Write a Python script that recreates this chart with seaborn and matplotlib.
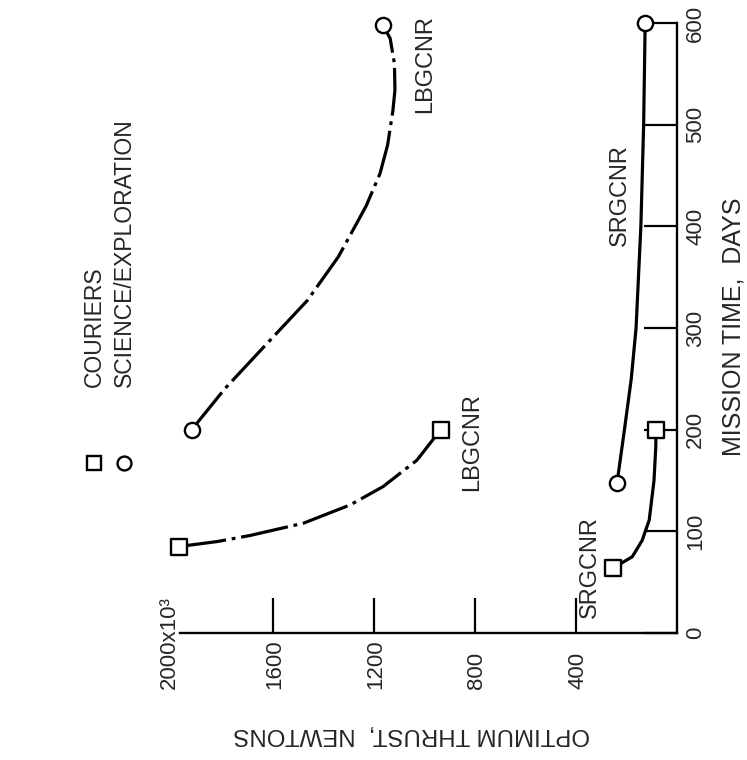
import matplotlib
matplotlib.use("Agg")
import matplotlib.pyplot as plt
import seaborn as sns
import pandas as pd

# Mission time (days) and optimum thrust (10^3 N) along each curve
courier_lbg_days = [85, 90, 96, 108, 126, 144, 170, 200]
courier_lbg_thrust = [1972, 1818, 1688, 1478, 1293, 1163, 1029, 935]

courier_srg_days = [64, 75, 91, 111, 150, 183, 200]
courier_srg_thrust = [252, 177, 138, 110, 91, 84, 83]

science_lbg_days = [200, 240, 280, 327, 370, 420, 452, 480, 514, 534, 560, 585, 598]
science_lbg_thrust = [1920, 1790, 1640, 1463, 1340, 1230, 1175, 1145, 1124, 1116, 1118, 1135, 1165]

science_srg_days = [148, 200, 250, 300, 400, 500, 600]
science_srg_thrust = [237, 208, 181, 162, 143, 132, 126]

thrust_ticks = [400, 800, 1200, 1600]
thrust_tick_labels = ["400", "800", "1200", "1600"]
day_ticks = [0, 100, 200, 300, 400, 500, 600]
day_tick_labels = ["0", "100", "200", "300", "400", "500", "600"]

legend_labels = ["COURIERS", "SCIENCE/EXPLORATION"]

sns.set_theme(style="white")
FONT = ["Liberation Sans", "DejaVu Sans"]
plt.rcParams["font.family"] = FONT

fig = plt.figure(figsize=(7.47, 7.6), dpi=100)
ax = fig.add_axes([0.2296, 0.1671, 0.6767, 0.8026])
ax.set_facecolor("white")

LW = 2.3
dashdot = (15, 1.8, 1.2, 1.8)

curves = [
    (courier_lbg_thrust, courier_lbg_days, "s", True),
    (courier_srg_thrust, courier_srg_days, "s", False),
    (science_lbg_thrust, science_lbg_days, "o", True),
    (science_srg_thrust, science_srg_days, "o", False),
]

for thrust, days, mk, dashed in curves:
    df = pd.DataFrame({"thrust": thrust, "days": days})
    sns.lineplot(data=df, x="thrust", y="days", sort=False, estimator=None,
                 color="black", lw=LW, ax=ax)
    ln = ax.lines[-1]
    ln.set_clip_on(False)
    ln.set_solid_capstyle("butt")
    if dashed:
        ln.set_dashes(dashdot)
    # open symbols at both ends of each curve
    ends = df.iloc[[0, -1]]
    sns.scatterplot(data=ends, x="thrust", y="days", marker=mk, s=120,
                    facecolor="white", edgecolor="black", linewidth=1.7,
                    zorder=5, ax=ax, clip_on=False)

ax.set_xlim(2000, 0)
ax.set_ylim(0, 600)

for s in ("top", "left"):
    ax.spines[s].set_visible(False)
for s in ("bottom", "right"):
    ax.spines[s].set_color("black")
    ax.spines[s].set_linewidth(1.7)
ax.spines["bottom"].set_bounds(0, 1965)

# Thrust axis along the bottom, ticks pointing inward
ax.set_xticks(thrust_ticks)
ax.set_xticklabels([])
ax.tick_params(axis="x", direction="in", length=25, width=1.6, color="black",
               bottom=True, top=False)
for t, lab in zip([2000] + thrust_ticks, ["2000x10³"] + thrust_tick_labels):
    ax.annotate(lab, xy=(t, 0), xycoords=("data", "axes fraction"),
                xytext=(-1.5 if t == 2000 else 1.5, -40.5), textcoords="offset points",
                rotation=90, ha="center", va="bottom", fontsize=16,
                family=FONT, annotation_clip=False)

# Mission-time axis along the right side
ax.yaxis.tick_right()
ax.set_yticks(day_ticks)
ax.set_yticklabels(day_tick_labels, rotation=90, va="center", fontsize=16, family=FONT)
ax.tick_params(axis="y", direction="in", length=24, width=1.6, color="black",
               right=True, left=False, pad=6)
ax.set_xlabel("")
ax.set_ylabel("")

fig.text(733 / 747, 1 - 327 / 760, "MISSION TIME,  DAYS", rotation=90,
         ha="center", va="center", fontsize=18, family=FONT)
fig.text(412 / 747, 1 - 734 / 760, "OPTIMUM THRUST,  NEWTONS", rotation=180,
         ha="center", va="center", fontsize=17.3, family=FONT)

# Curve labels
curve_labels = [
    ("LBGCNR", 997, 560),
    ("SRGCNR", 225, 431),
    ("LBGCNR", 811, 188),
    ("SRGCNR", 344, 65),
]
for txt, t, d in curve_labels:
    ax.text(t, d, txt, rotation=90, ha="center", va="center", fontsize=17,
            family=FONT, clip_on=False)

# Key
for i, (lab, mk) in enumerate(zip(legend_labels, ["s", "o"])):
    xf = (94 + 30 * i) / 747
    fig.text(xf, 1 - 387 / 760, lab, rotation=90, ha="center", va="bottom",
             fontsize=16.5, family=FONT)
    fig.add_artist(plt.Line2D([xf], [1 - 463 / 760], marker=mk, markersize=10,
                              markerfacecolor="white", markeredgecolor="black",
                              markeredgewidth=1.7, linestyle="none",
                              transform=fig.transFigure))

fig.savefig("out.png", dpi=100, facecolor="white")
